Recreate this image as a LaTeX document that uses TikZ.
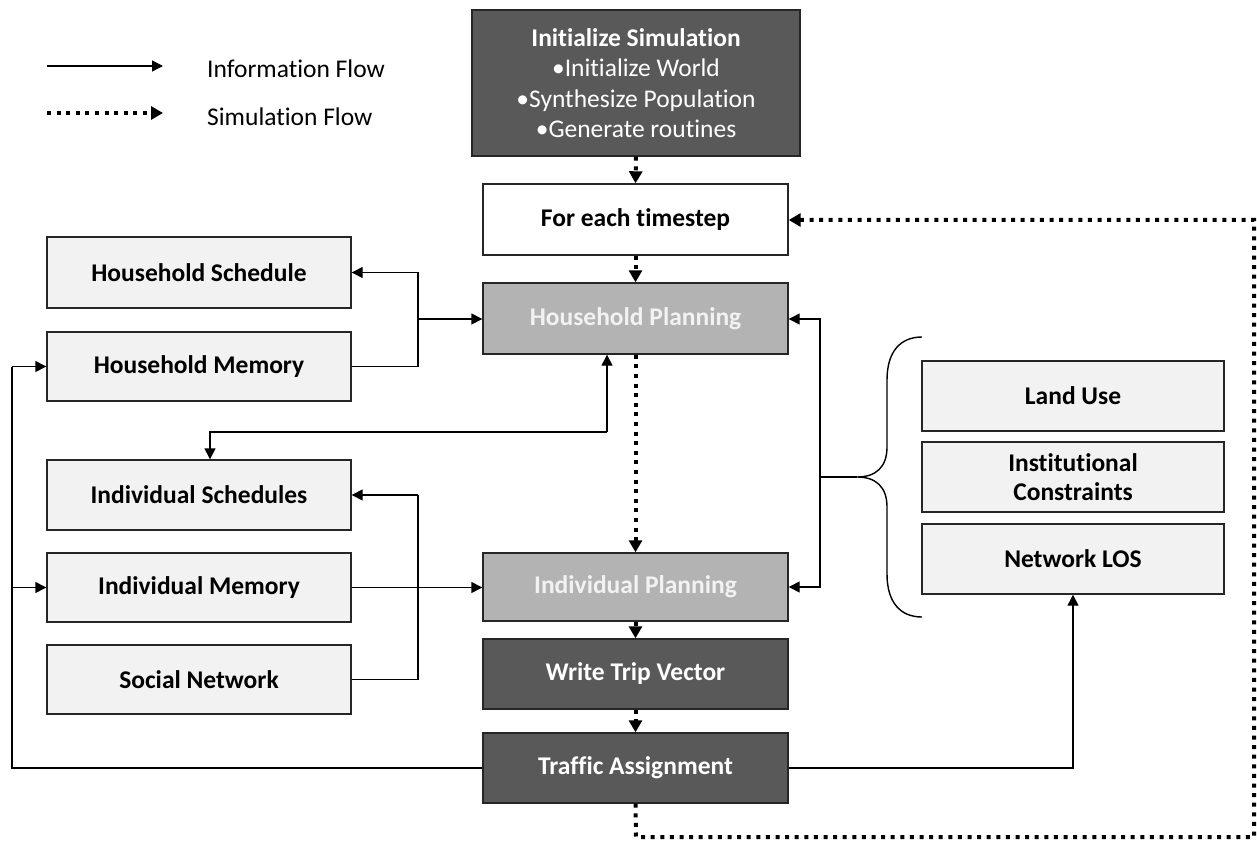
\documentclass[tikz,border=0pt]{standalone}
\usepackage{fontspec}
\setmainfont{Carlito}[Ligatures={NoCommon}]
\usetikzlibrary{arrows.meta}
\definecolor{darkbox}{HTML}{595959}
\definecolor{midbox}{HTML}{B3B3B3}
\definecolor{lightbox}{HTML}{F2F2F2}
\definecolor{edge}{HTML}{262626}
\tikzset{
  box/.style={draw=edge, line width=1.4pt, minimum width=305pt, minimum height=70pt, inner sep=2pt, align=center, font=\fontsize{25.5}{31}\selectfont\bfseries},
  lightb/.style={box, fill=lightbox, text=black},
  darkb/.style={box, fill=darkbox, text=white},
  midb/.style={box, fill=midbox, text=lightbox},
  whiteb/.style={box, fill=white, text=black},
  info/.style={line width=1.4pt, -{Triangle[length=11pt,width=11pt]}},
  infoline/.style={line width=1.4pt},
  simflow/.style={line width=4pt, dash pattern=on 4pt off 5.6pt, -{Triangle[length=12pt,width=13pt]}},
  simline/.style={line width=4pt, dash pattern=on 4pt off 5.6pt},
  legtext/.style={anchor=west, font=\fontsize{25.5}{31}\selectfont, inner sep=0pt}
}
\begin{document}
\begin{tikzpicture}[x=1pt,y=-1pt]
\useasboundingbox (0,0) rectangle (1257,842);

% legend
\coordinate (la1) at (47,66);
\coordinate (la2) at (163,66);
\coordinate (lb1) at (47,113);
\coordinate (lb2) at (163,113);
\draw[info] (la1) -- (la2);
\draw[simflow] (lb1) -- (lb2);
\node[legtext] (lt1) at (207,69) {Information Flow};
\node[legtext] (lt2) at (207,117) {Simulation Flow};

% central column
\node[darkb, minimum width=328pt, minimum height=146pt, font=\fontsize{25.5}{30.5}\selectfont] (init) at (636,83)
  {\textbf{Initialize Simulation}\\•Initialize World\\•Synthesize Population\\•Generate routines};
\node[whiteb, minimum height=71pt] (fet) at (635.5,219.5) {For each timestep};
\node[midb, minimum height=71pt] (hp) at (635.5,318.5) {Household Planning};
\node[midb, minimum height=68pt] (ip) at (635.5,587) {Individual Planning};
\node[darkb] (wtv) at (635.5,674) {Write Trip Vector};
\node[darkb] (ta) at (635.5,768) {Traffic Assignment};

% left column
\node[lightb, minimum width=304pt, minimum height=71pt] (hs) at (199,272.5) {Household Schedule};
\node[lightb, minimum width=304pt, minimum height=69pt] (hm) at (199,366.5) {Household Memory};
\node[lightb, minimum width=304pt] (is) at (199,495) {Individual Schedules};
\node[lightb, minimum width=304pt, minimum height=69pt] (im) at (199,587.5) {Individual Memory};
\node[lightb, minimum width=304pt, minimum height=69pt] (sn) at (199,679.5) {Social Network};

% right column
\node[lightb, minimum width=302pt] (lu) at (1073,396) {Land Use};
\node[lightb, minimum width=302pt, font=\fontsize{25.5}{29.5}\selectfont\bfseries] (ic) at (1073,477) {Institutional\\Constraints};
\node[lightb, minimum width=302pt] (nlos) at (1073,559) {Network LOS};

% simulation flow
\draw[simflow] (init.south) -- (fet.north);
\draw[simflow] (fet.south) -- (hp.north);
\draw[simflow] (hp.south) -- (ip.north);
\draw[simflow] (ip.south) -- (wtv.north);
\draw[simflow] (wtv.south) -- (ta.north);
\coordinate (d1) at (636,837);
\coordinate (d2) at (1254,837);
\coordinate (d3) at (1254,220);
\draw[simflow] (ta.south) -- (d1) -- (d2) -- (d3) -- (fet.east |- d3);

% household junction
\coordinate (jh) at (418,319);
\draw[infoline] (hm.east) -| (jh);
\draw[info] (jh) |- (hs.east);
\draw[info] (jh) -- (hp.west |- jh);

% household <-> individual schedules
\coordinate (k1) at (607,432);
\coordinate (k2) at (210,432);
\draw[info] (k1) -- (k1 |- hp.south);
\draw[info] (k1) -- (k2) -- (k2 |- is.north);

% individual junction
\coordinate (ji) at (418,495);
\draw[infoline] (sn.east) -| (ji);
\draw[info] (ji) -- (is.east |- ji);
\draw[info] (im.east) -- (ip.west |- im.east);

% right junction and brace
\coordinate (jr) at (820,477);
\coordinate (btip) at (857,477);
\draw[info] (jr) |- (hp.east |- jh);
\draw[info] (jr) |- (ip.east);
\draw[infoline] (jr) -- (btip);
\coordinate (bt) at (922,337);
\coordinate (bb) at (922,617);
\draw[infoline] (bt) .. controls (900,337) and (887,352) .. (887,380) -- (887,447)
  .. controls (887,467) and (876,477) .. (btip)
  .. controls (876,477) and (887,487) .. (887,507) -- (887,574)
  .. controls (887,602) and (900,617) .. (bb);

% feedback from traffic assignment
\coordinate (f1) at (12,768);
\coordinate (f2) at (12,366.5);
\draw[line width=2.2pt] (ta.west) -- (f1) -- (f2);
\draw[info] (f2) -- (hm.west);
\draw[info] (f1 |- im.west) -- (im.west);
\coordinate (g1) at (1073,768);
\draw[info] (ta.east) -- (g1) -- (nlos.south);
\end{tikzpicture}
\end{document}
